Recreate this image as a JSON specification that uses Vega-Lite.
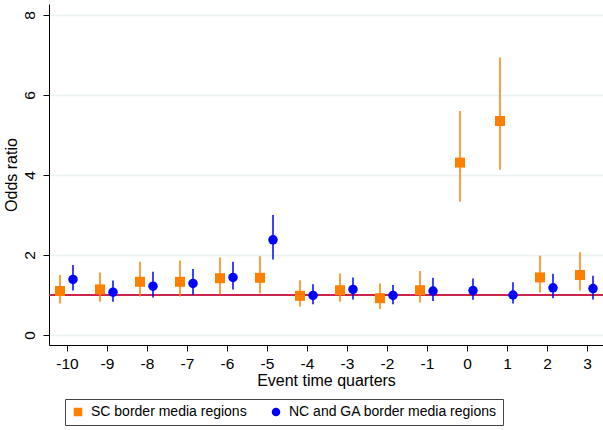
{
  "$schema": "https://vega.github.io/schema/vega-lite/v6.json",
  "autosize": "none",
  "padding": {"left": 49, "top": 4, "right": 0, "bottom": 85},
  "width": 554,
  "height": 341,
  "background": "white",
  "config": {
    "view": {"stroke": null},
    "font": "Liberation Sans",
    "axis": {
      "labelFont": "Liberation Sans",
      "titleFont": "Liberation Sans",
      "labelColor": "#000",
      "titleColor": "#000",
      "domainColor": "#000",
      "tickColor": "#000",
      "titleFontWeight": "normal"
    },
    "legend": {
      "labelFont": "Liberation Sans"
    }
  },
  "data": {
    "values": [
      {"quarter": -10, "series": "SC border media regions", "or": 1.10, "lo": 0.79, "hi": 1.50},
      {"quarter": -9, "series": "SC border media regions", "or": 1.14, "lo": 0.83, "hi": 1.56},
      {"quarter": -8, "series": "SC border media regions", "or": 1.33, "lo": 0.96, "hi": 1.83},
      {"quarter": -7, "series": "SC border media regions", "or": 1.33, "lo": 0.96, "hi": 1.86},
      {"quarter": -6, "series": "SC border media regions", "or": 1.42, "lo": 1.02, "hi": 1.94},
      {"quarter": -5, "series": "SC border media regions", "or": 1.43, "lo": 1.04, "hi": 1.97},
      {"quarter": -4, "series": "SC border media regions", "or": 0.98, "lo": 0.71, "hi": 1.37},
      {"quarter": -3, "series": "SC border media regions", "or": 1.12, "lo": 0.83, "hi": 1.54},
      {"quarter": -2, "series": "SC border media regions", "or": 0.92, "lo": 0.65, "hi": 1.29},
      {"quarter": -1, "series": "SC border media regions", "or": 1.12, "lo": 0.81, "hi": 1.60},
      {"quarter": 0, "series": "SC border media regions", "or": 4.31, "lo": 3.33, "hi": 5.60},
      {"quarter": 1, "series": "SC border media regions", "or": 5.35, "lo": 4.13, "hi": 6.94},
      {"quarter": 2, "series": "SC border media regions", "or": 1.44, "lo": 1.06, "hi": 1.98},
      {"quarter": 3, "series": "SC border media regions", "or": 1.50, "lo": 1.11, "hi": 2.07},
      {"quarter": -10, "series": "NC and GA border media regions", "or": 1.39, "lo": 1.11, "hi": 1.75},
      {"quarter": -9, "series": "NC and GA border media regions", "or": 1.07, "lo": 0.83, "hi": 1.36},
      {"quarter": -8, "series": "NC and GA border media regions", "or": 1.22, "lo": 0.94, "hi": 1.58},
      {"quarter": -7, "series": "NC and GA border media regions", "or": 1.29, "lo": 1.00, "hi": 1.65},
      {"quarter": -6, "series": "NC and GA border media regions", "or": 1.44, "lo": 1.14, "hi": 1.83},
      {"quarter": -5, "series": "NC and GA border media regions", "or": 2.38, "lo": 1.89, "hi": 3.00},
      {"quarter": -4, "series": "NC and GA border media regions", "or": 0.99, "lo": 0.77, "hi": 1.27},
      {"quarter": -3, "series": "NC and GA border media regions", "or": 1.14, "lo": 0.89, "hi": 1.44},
      {"quarter": -2, "series": "NC and GA border media regions", "or": 0.99, "lo": 0.77, "hi": 1.25},
      {"quarter": -1, "series": "NC and GA border media regions", "or": 1.10, "lo": 0.85, "hi": 1.43},
      {"quarter": 0, "series": "NC and GA border media regions", "or": 1.11, "lo": 0.88, "hi": 1.41},
      {"quarter": 1, "series": "NC and GA border media regions", "or": 1.00, "lo": 0.79, "hi": 1.32},
      {"quarter": 2, "series": "NC and GA border media regions", "or": 1.18, "lo": 0.92, "hi": 1.53},
      {"quarter": 3, "series": "NC and GA border media regions", "or": 1.16, "lo": 0.89, "hi": 1.48}
    ]
  },
  "encoding": {
    "x": {
      "field": "quarter",
      "type": "quantitative",
      "scale": {"domain": [-10.45, 3.4], "nice": false, "zero": false},
      "axis": {
        "title": "Event time quarters",
        "titleFontSize": 16,
        "titlePadding": 1,
        "values": [-10, -9, -8, -7, -6, -5, -4, -3, -2, -1, 0, 1, 2, 3],
        "labelExpr": "'' + datum.value",
        "labelFontSize": 15.5,
        "labelPadding": 5,
        "tickSize": 6,
        "grid": false,
        "labelFlush": false,
        "labelOverlap": false
      }
    }
  },
  "layer": [
    {
      "mark": {"type": "rule", "color": "#c8264e", "strokeWidth": 1.6},
      "encoding": {"y": {"datum": 1, "type": "quantitative"}, "x": null}
    },
    {
      "transform": [{"filter": "datum.series === 'SC border media regions'"}],
      "mark": {"type": "rule", "xOffset": -7, "strokeWidth": 2, "opacity": 0.75},
      "encoding": {
        "y": {
          "field": "lo",
          "type": "quantitative",
          "scale": {"domain": [-0.25, 8.275], "nice": false, "zero": false},
          "axis": {
            "title": "Odds ratio",
            "titleFontSize": 16,
            "titlePadding": 3,
            "values": [0, 2, 4, 6, 8],
            "labelAngle": -90,
            "labelAlign": "center",
            "labelBaseline": "bottom",
            "labelFontSize": 15.5,
            "labelPadding": 6,
            "tickSize": 6,
            "grid": true,
            "gridColor": "#eaf2f3",
            "gridWidth": 1.5
          }
        },
        "y2": {"field": "hi"},
        "color": {
          "field": "series",
          "type": "nominal",
          "scale": {"domain": ["SC border media regions", "NC and GA border media regions"], "range": ["#ff8000", "#0000ff"]},
          "legend": {
            "title": null,
            "orient": "none",
            "legendX": 16,
            "legendY": 395,
            "direction": "horizontal",
            "strokeColor": "#444",
            "fillColor": "white",
            "padding": 6,
            "labelFontSize": 14,
            "labelColor": "#000",
            "labelLimit": 400,
            "symbolSize": 50,
            "symbolOpacity": 1,
            "labelOffset": 6,
            "columnPadding": 22
          }
        }
      }
    },
    {
      "transform": [{"filter": "datum.series === 'SC border media regions'"}],
      "mark": {"type": "point", "xOffset": -7, "filled": true, "opacity": 1, "size": 100},
      "encoding": {
        "y": {"field": "or", "type": "quantitative"},
        "color": {"field": "series", "type": "nominal"},
        "shape": {
          "field": "series",
          "type": "nominal",
          "scale": {"domain": ["SC border media regions", "NC and GA border media regions"], "range": ["square", "circle"]}
        }
      }
    },
    {
      "transform": [{"filter": "datum.series === 'NC and GA border media regions'"}],
      "mark": {"type": "rule", "xOffset": 6, "strokeWidth": 2, "opacity": 0.75},
      "encoding": {
        "y": {"field": "lo", "type": "quantitative"},
        "y2": {"field": "hi"},
        "color": {"field": "series", "type": "nominal"}
      }
    },
    {
      "transform": [{"filter": "datum.series === 'NC and GA border media regions'"}],
      "mark": {"type": "point", "xOffset": 6, "filled": true, "opacity": 1, "size": 90},
      "encoding": {
        "y": {"field": "or", "type": "quantitative"},
        "color": {"field": "series", "type": "nominal"},
        "shape": {"field": "series", "type": "nominal"}
      }
    }
  ],
  "resolve": {"scale": {"color": "shared", "shape": "shared"}}
}
